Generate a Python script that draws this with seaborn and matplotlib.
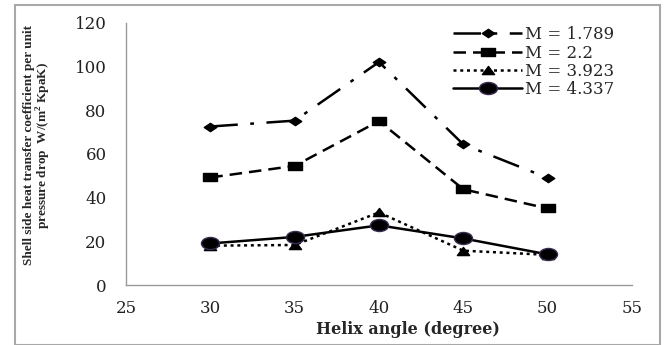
import matplotlib
matplotlib.use("Agg")
import matplotlib.pyplot as plt
import seaborn as sns
import pandas as pd
import numpy as np
from matplotlib.patches import Rectangle
from matplotlib.path import Path
from matplotlib.transforms import Affine2D

helix_angle = [30, 35, 40, 45, 50]
m_1789 = [72.5, 75.2, 102.0, 64.3, 49.0]
m_22 = [49.2, 54.5, 75.0, 43.8, 35.0]
m_3923 = [18.0, 18.3, 33.2, 15.7, 13.8]
m_4337 = [19.0, 22.0, 27.3, 21.3, 14.0]
labels = ["M = 1.789", "M = 2.2", "M = 3.923", "M = 4.337"]
x_ticks = [25, 30, 35, 40, 45, 50, 55]
y_ticks = [0, 20, 40, 60, 80, 100, 120]

# horizontally stretched marker shapes (the reference picture is stretched)
stretch = Affine2D().scale(1.5, 1.0)
m_ellipse = Path.unit_circle().transformed(stretch)
m_diamond = Path([(0, 1), (1, 0), (0, -1), (-1, 0), (0, 1)], closed=True).transformed(stretch)
m_square = Path([(-1, -1), (1, -1), (1, 1), (-1, 1), (-1, -1)], closed=True).transformed(stretch)
m_triangle = Path([(0, 1), (1, -1), (-1, -1), (0, 1)], closed=True).transformed(stretch)

sns.set_style("white")
plt.rcParams['font.family'] = ['DejaVu Serif', 'Liberation Serif']
plt.rcParams['mathtext.fontset'] = 'custom'
plt.rcParams['mathtext.rm'] = 'Liberation Serif'
plt.rcParams['mathtext.bf'] = 'Liberation Serif:bold'

fig = plt.figure(figsize=(6.64, 3.45), dpi=100)
ax = fig.add_axes([126/664, 1-285/345, (632-126)/664, (285-22.7)/345])

styles = [
    dict(marker=m_diamond, ls=(0, (11, 5, 1.5, 5)), ms=9, mec='black', mfc='black'),
    dict(marker=m_square, ls=(0, (5, 2.8)), ms=9.5, mec='black', mfc='black'),
    dict(marker=m_triangle, ls=(0, (1.2, 1.5)), ms=8.8, mec='black', mfc='black'),
    dict(marker=m_ellipse, ls='-', ms=13, mec='#3a2a55', mfc='black'),
]
series = [m_1789, m_22, m_3923, m_4337]
for vals, lab, st in zip(series, labels, styles):
    df = pd.DataFrame({"x": helix_angle, "y": vals})
    sns.lineplot(data=df, x="x", y="y", ax=ax, color="black", lw=1.8,
                 marker=st['marker'], markersize=st['ms'], markeredgecolor=st['mec'],
                 markeredgewidth=1, markerfacecolor=st['mfc'], linestyle=st['ls'], label=lab)

ax.set_xlim(25, 55)
ax.set_ylim(0, 120)
ax.set_xticks(x_ticks)
ax.set_yticks(y_ticks)
ax.tick_params(axis='both', colors='#9a9a9a', labelcolor='#222222', labelsize=12,
               direction='out', length=5, width=1)
ax.tick_params(axis='y', pad=9)
ax.tick_params(axis='x', length=3, pad=8)
for s in ['top', 'right']:
    ax.spines[s].set_visible(False)
for s in ['left', 'bottom']:
    ax.spines[s].set_color('#9a9a9a')
    ax.spines[s].set_linewidth(1)

ax.set_xlabel("Helix angle (degree)", fontsize=11.5, fontweight='bold', va='top')
ax.xaxis.set_label_coords(0.5 + (408-379)/506, (285-321)/262.3)
ax.set_ylabel("Shell side heat transfer coefficient per unit\npressure drop  W/(m$^\\mathbf{2}$ KpaK)",
              fontsize=9.5, fontweight='bold', linespacing=1.0,
              family=['Liberation Serif', 'DejaVu Serif'])
ax.yaxis.set_label_coords((53-126)/506, (285-145)/262.3)

leg = ax.legend(loc='upper left', bbox_to_anchor=(445/664, 1-18/345),
                bbox_transform=fig.transFigure, frameon=False, fontsize=12,
                handlelength=4.1, handletextpad=0.2, labelspacing=0.08, borderpad=0)

fig.patches.append(Rectangle((15/664, 0), (660-15)/664, 1-5/345, transform=fig.transFigure,
                             fill=False, edgecolor='#a8a8a8', lw=1.5))

fig.savefig("out.png", dpi=100)
